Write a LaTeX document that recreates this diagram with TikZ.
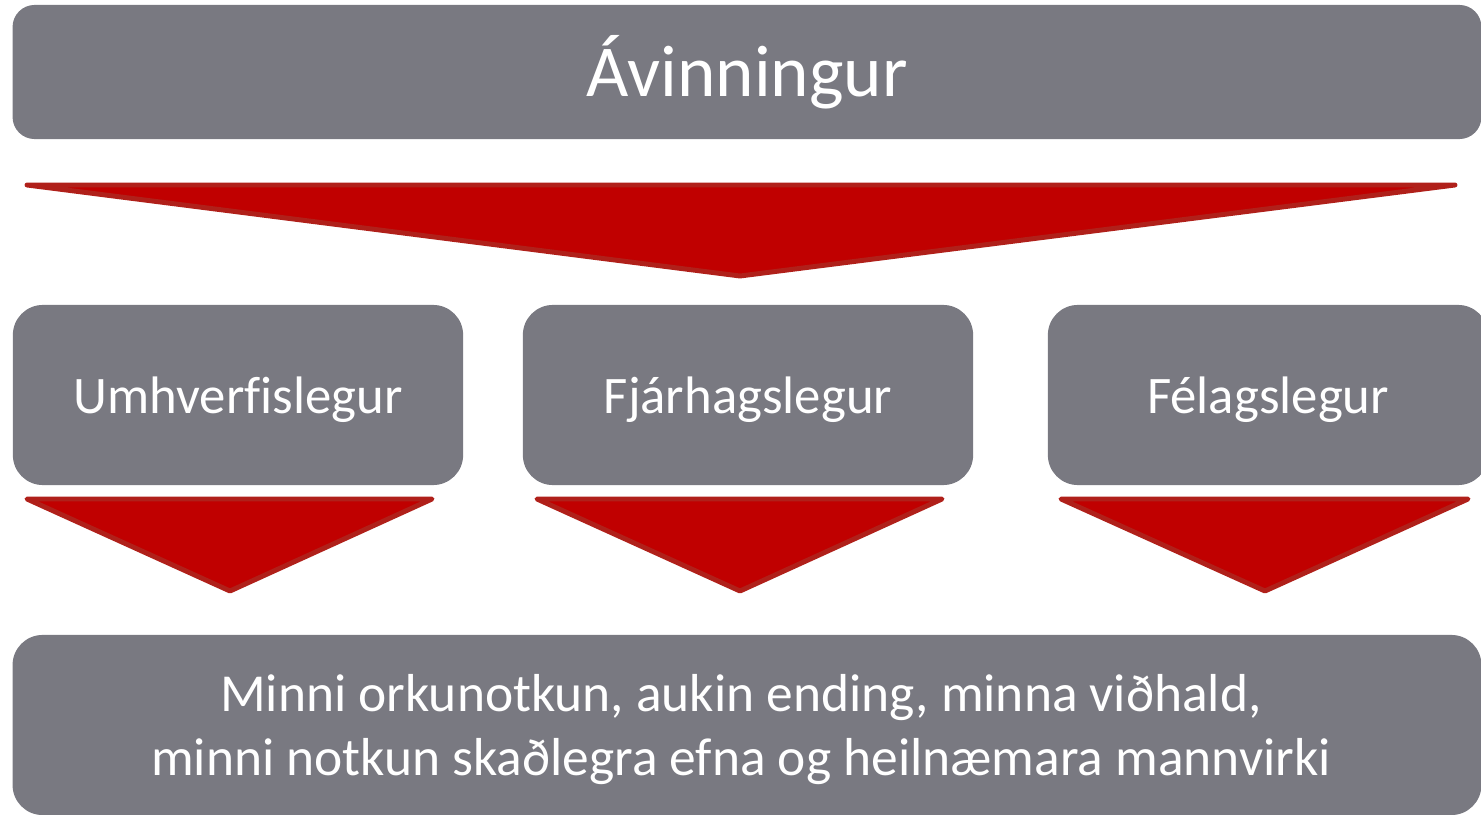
\documentclass[tikz,border=0pt]{standalone}
\usepackage{fontspec}
\setmainfont[Ligatures=NoCommon]{Carlito}
\definecolor{boxgray}{RGB}{121,121,129}
\definecolor{arrowred}{RGB}{192,0,0}
\definecolor{arrowedge}{RGB}{176,32,26}
\begin{document}
\begin{tikzpicture}[x=0.01cm,y=-0.01cm,line cap=round,line join=round,
  box/.style={fill=boxgray,text=white,inner sep=0pt,rounded corners=0.3cm,
    minimum height=1.8cm},
  lowbox/.style={box,text depth=0pt},
  downarrow/.style={fill=arrowred,draw=arrowedge,line width=1.4pt}]
  \useasboundingbox (0,0) rectangle (1481,815);
  % boxes
  \node[box,rounded corners=0.22cm,minimum width=14.68cm,minimum height=1.34cm,
    font=\fontsize{20.8}{25}\selectfont] (gain) at (747,72) {Ávinningur\hspace{0.13cm}};
  \node[lowbox,minimum width=4.5cm,font=\fontsize{15}{18}\selectfont] (env) at (238,395) {Umhverfislegur};
  \node[lowbox,minimum width=4.5cm,font=\fontsize{15}{18}\selectfont] (fin) at (748,395) {Fjárhagslegur};
  \node[lowbox,minimum width=4.4cm,font=\fontsize{15}{18}\selectfont] (soc) at (1268,395) {Félagslegur};
  \node[lowbox,minimum width=14.68cm,align=center,
    font=\fontsize{15.2}{18.2}\selectfont] (result) at (747,725)
    {Minni orkunotkun, aukin ending, minna viðhald,\hspace*{0.12cm}\\
     minni notkun skaðlegra efna og heilnæmara mannvirki\hspace*{0.12cm}};
  % arrows
  \draw[downarrow] (27,185) -- (1455,185) -- (740,276) -- cycle;
  \foreach \l/\r/\m in {27/432/230, 537/942/740, 1061/1468/1265}
    \draw[downarrow] (\l,499) -- (\r,499) -- (\m,591) -- cycle;
\end{tikzpicture}
\end{document}
